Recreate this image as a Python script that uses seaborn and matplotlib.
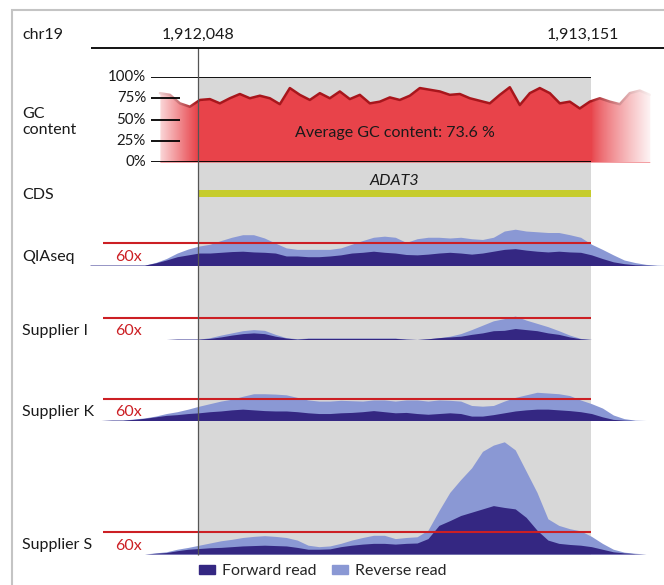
import numpy as np
import matplotlib
matplotlib.use("Agg")
import matplotlib.pyplot as plt
import seaborn as sns
from matplotlib.patches import Patch, Rectangle

sns.set_theme(style="white")
plt.rcParams["font.family"] = ["Lato", "DejaVu Sans"]

# ---------------- data ----------------
chrom = "chr19"
region_start = 1912048
region_end = 1913151
gene_name = "ADAT3"
avg_gc = 73.6
threshold = 60

# sample positions (bp) for the coverage profiles
pos = np.linspace(1911745, 1913489, 58)
# sample positions (bp) for the GC profile
gc_pos = np.linspace(1911941, 1913316, 50)

gc_pct = [81, 79, 69, 65, 73, 74, 69, 75, 80, 75, 78, 75, 68, 87, 79, 73, 81, 75, 83, 74,
          79, 69, 71, 76, 73, 78, 87, 85, 83, 79, 80, 75, 72, 69, 79, 88, 67, 81, 87, 81,
          69, 71, 63, 71, 75, 71, 68, 81, 84, 79]

tracks = ["QIAseq", "Supplier I", "Supplier K", "Supplier S"]

qiaseq_fwd = [1, 1, 1, 1, 1, 1, 7, 15, 24, 29, 34, 34, 36, 38, 39, 37, 36, 34, 26, 26,
              24, 24, 26, 29, 34, 36, 39, 36, 34, 30, 29, 31, 34, 36, 34, 31, 34, 39, 44, 46,
              42, 39, 37, 39, 37, 36, 29, 19, 10, 5, 2, 1, 0, 0, 0, 0, 0, 0]
qiaseq_rev = [0, 0, 0, 0, 0, 0, 1, 4, 10, 16, 19, 24, 32, 39, 45, 47, 39, 27, 22, 18,
              20, 20, 18, 19, 24, 32, 38, 44, 43, 33, 44, 46, 43, 39, 43, 42, 37, 38, 50, 53,
              52, 53, 53, 51, 47, 41, 29, 25, 19, 10, 6, 2, 1, 0, 0, 0, 0, 0]

supi_fwd = [0, 0, 0, 0, 0, 0, 0, 0, 1, 1, 1, 3, 7, 12, 16, 18, 16, 9, 4, 1,
            3, 3, 3, 3, 3, 3, 3, 3, 3, 1, 0, 2, 5, 7, 9, 14, 18, 24, 25, 30,
            27, 24, 18, 14, 7, 2, 0, 0, 0, 0, 0, 0, 0, 0, 0, 0, 0, 0]
supi_rev = [0, 0, 0, 0, 0, 0, 0, 0, 0, 0, 0, 2, 5, 6, 8, 9, 9, 5, 1, 1,
            1, 1, 1, 1, 1, 1, 1, 1, 1, 0, 0, 0, 0, 2, 7, 13, 21, 27, 32, 34,
            26, 20, 17, 10, 5, 1, 0, 0, 0, 0, 0, 0, 0, 0, 0, 0, 0, 0]

supk_fwd = [0, 0, 1, 1, 3, 6, 10, 14, 16, 19, 21, 24, 26, 29, 31, 29, 27, 26, 26, 24,
            21, 19, 19, 21, 22, 24, 27, 24, 21, 22, 19, 17, 19, 21, 19, 12, 12, 16, 21, 26,
            29, 31, 31, 29, 27, 24, 19, 10, 3, 1, 0, 0, 0, 0, 0, 0, 0, 0]
supk_rev = [0, 0, 0, 0, 1, 1, 2, 5, 8, 12, 18, 22, 27, 29, 35, 44, 46, 46, 44, 39,
            35, 34, 34, 34, 32, 29, 29, 32, 32, 34, 37, 36, 37, 34, 34, 29, 27, 25, 32, 37,
            41, 46, 44, 44, 41, 32, 27, 24, 12, 4, 1, 0, 0, 0, 0, 0, 0, 0]

sups_fwd = [0, 0, 0, 0, 0, 0, 2, 4, 9, 13, 15, 17, 18, 20, 22, 23, 24, 23, 22, 18,
            13, 13, 14, 20, 24, 27, 29, 29, 27, 29, 30, 42, 78, 91, 105, 114, 123, 132, 127, 123,
            100, 65, 38, 29, 26, 24, 20, 13, 6, 3, 1, 0, 0, 0, 0, 0, 0, 0]
sups_rev = [0, 0, 0, 0, 0, 0, 1, 2, 4, 5, 9, 13, 18, 20, 23, 25, 26, 25, 23, 20,
            11, 7, 8, 9, 14, 18, 22, 22, 15, 16, 17, 23, 40, 77, 98, 121, 157, 165, 179, 161,
            126, 103, 58, 49, 43, 39, 28, 16, 7, 2, 1, 0, 0, 0, 0, 0, 0, 0]

fwd_data = [qiaseq_fwd, supi_fwd, supk_fwd, sups_fwd]
rev_data = [qiaseq_rev, supi_rev, supk_rev, sups_rev]

# ---------------- layout / style ----------------
W, H = 664, 585
BP_PER_PX = (region_end - region_start) / 393.0
XL = region_start - 198 * BP_PER_PX
XR = region_start + (W - 198) * BP_PER_PX


def px2bp(px):
    return XL + px * BP_PER_PX


C_FWD = "#342782"
C_REV = "#8a98d4"
C_GRAY = "#d8d8d8"
C_RED = "#e8434a"
C_REDLINE = "#a8161c"
C_THR = "#cc1f24"
C_CDS = "#c6cc2c"
TXT = "#1a1a1a"
FS = 11.5

fig = plt.figure(figsize=(W / 100, H / 100), dpi=100)


def full_axes():
    ax = fig.add_axes([0, 0, 1, 1])
    ax.set_xlim(XL, XR)
    ax.set_ylim(H, 0)
    ax.axis("off")
    ax.patch.set_alpha(0)
    return ax


def band_axes(y_top, y_bot):
    ax = fig.add_axes([0, 1 - y_bot / H, 1, (y_bot - y_top) / H])
    ax.set_xlim(XL, XR)
    ax.axis("off")
    ax.patch.set_alpha(0)
    return ax


# background: shaded target region + CDS bar
bg = full_axes()
bg.axvspan(region_start, region_end, ymin=1 - 555 / H, ymax=1 - 77 / H, color=C_GRAY, lw=0)
bg.barh(193.5, region_end - region_start, left=region_start, height=7, color=C_CDS, lw=0)
bg.text((region_start + region_end) / 2, 181, gene_name, style="italic", ha="center",
        va="center", fontsize=FS, color=TXT)

# GC content track
gc_ax = band_axes(77, 162)
gc_ax.set_ylim(0, 100)
gc_ax.fill_between(gc_pos, 0, gc_pct, color=C_RED, lw=0)
sns.lineplot(x=gc_pos, y=gc_pct, ax=gc_ax, color=C_REDLINE, lw=1.8)
gc_ax.axis("off")
ramp_l = np.ones((1, 64, 4))
ramp_l[..., 3] = np.linspace(1, 0, 64)
gc_ax.imshow(ramp_l, extent=(px2bp(150), region_start, 0, 101), aspect="auto", zorder=3)
ramp_r = np.ones((1, 64, 4))
ramp_r[..., 3] = np.linspace(0, 1, 64) ** 0.8
gc_ax.imshow(ramp_r, extent=(region_end, px2bp(655), 0, 101), aspect="auto", zorder=3)
gc_ax.set_xlim(XL, XR)
gc_ax.set_ylim(0, 100)
for lvl in [0, 100]:
    gc_ax.hlines(lvl, px2bp(151), region_end, color="black", lw=1.3, zorder=4)
for lvl in [25, 50, 75]:
    gc_ax.hlines(lvl, px2bp(151), px2bp(180), color="black", lw=1.3, zorder=4)
for lvl in [0, 25, 50, 75, 100]:
    gc_ax.text(px2bp(146), lvl, f"{lvl}%", ha="right", va="center", fontsize=10.8,
               color=TXT, zorder=5)
gc_ax.text((region_start + region_end) / 2, 34, f"Average GC content: {avg_gc} %",
           ha="center", va="center", fontsize=FS, color=TXT, zorder=5)

# coverage tracks
PX_PER_X = 22 / 60
baselines = [265.5, 339.5, 420.5, 554]
heights = [45, 45, 45, 125]
for name, fwd, rev, yb, h in zip(tracks, fwd_data, rev_data, baselines, heights):
    ax = band_axes(yb - h, yb)
    ax.set_ylim(0, h / PX_PER_X)
    fwd = np.array(fwd)
    tot = fwd + np.array(rev)
    ax.fill_between(pos, 0, tot, color=C_REV, lw=0)
    ax.fill_between(pos, 0, fwd, color=C_FWD, lw=0)
    ax.hlines(threshold, px2bp(103), region_end, color=C_THR, lw=1.5)

# overlay: region boundary line, labels, legend
top = full_axes()
top.vlines(region_start, 48, 555, color="#555555", lw=0.9)
top.hlines(48, px2bp(91), XR, color="black", lw=1.3)
top.text(px2bp(22), 35, chrom, ha="left", va="center", fontsize=FS, color=TXT)
top.text(px2bp(198), 35, f"{region_start:,}", ha="center", va="center", fontsize=FS, color=TXT)
top.text(px2bp(583), 35, f"{region_end:,}", ha="center", va="center", fontsize=FS, color=TXT)
top.text(px2bp(22), 122, "GC\ncontent", ha="left", va="center", fontsize=FS,
         color=TXT, linespacing=1.2)
top.text(px2bp(22), 195, "CDS", ha="left", va="center", fontsize=FS, color=TXT)
for name, yb in zip(tracks, baselines):
    top.text(px2bp(22), yb - 8.5, name, ha="left", va="center", fontsize=FS, color=TXT)
    top.text(px2bp(115), yb - 8.5, f"{threshold}x", ha="left", va="center", fontsize=FS,
             color=C_THR)

handles = [Patch(color=C_FWD, label="Forward read"), Patch(color=C_REV, label="Reverse read")]
fig.legend(handles=handles, loc="center", bbox_to_anchor=(0.486, 1 - 571 / H), ncol=2,
           frameon=False, fontsize=FS, handlelength=1.0, handleheight=0.45,
           handletextpad=0.4, columnspacing=1.0, borderpad=0)

fig.add_artist(Rectangle((12 / W, -0.1), 1.2, 1 - 10 / H + 0.1, transform=fig.transFigure,
                         fill=False, ec="#c4c4c4", lw=1.5))

fig.savefig("out.png", dpi=100)
